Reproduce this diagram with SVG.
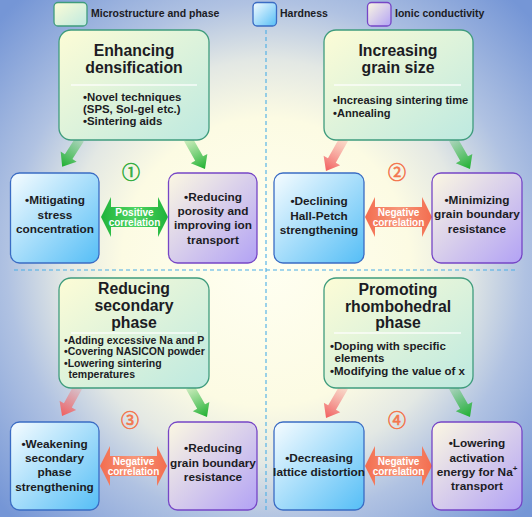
<svg xmlns="http://www.w3.org/2000/svg" width="532" height="517" viewBox="0 0 532 517">
<defs>
<radialGradient id="bg" gradientUnits="userSpaceOnUse" cx="266" cy="262" r="360">
<stop offset="0" stop-color="#fffff2"/>
<stop offset="0.4" stop-color="#fcfbe3"/>
<stop offset="0.56" stop-color="#e3e8e4"/>
<stop offset="0.72" stop-color="#b0c2e2"/>
<stop offset="1" stop-color="#7596d6"/>
</radialGradient>
<linearGradient id="gMicro" x1="0" y1="0" x2="1" y2="1">
<stop offset="0" stop-color="#fdfcd6"/>
<stop offset="1" stop-color="#bde9e0"/>
</linearGradient>
<linearGradient id="gHard" x1="0" y1="0" x2="1" y2="1">
<stop offset="0" stop-color="#f6fcff"/>
<stop offset="1" stop-color="#55bef6"/>
</linearGradient>
<linearGradient id="gIon" x1="0" y1="0" x2="1" y2="1">
<stop offset="0" stop-color="#fcf8e2"/>
<stop offset="1" stop-color="#b2a2f5"/>
</linearGradient>
<linearGradient id="aG" x1="0" y1="0" x2="1" y2="0">
<stop offset="0" stop-color="#3cbf48" stop-opacity="0.25"/>
<stop offset="1" stop-color="#1eb02f" stop-opacity="1"/>
</linearGradient>
<linearGradient id="aR" x1="0" y1="0" x2="1" y2="0">
<stop offset="0" stop-color="#f58080" stop-opacity="0.25"/>
<stop offset="1" stop-color="#f25f5f" stop-opacity="1"/>
</linearGradient>
<linearGradient id="dG" x1="0" y1="0" x2="1" y2="0">
<stop offset="0" stop-color="#1fb33a"/>
<stop offset="0.5" stop-color="#4fd463"/>
<stop offset="1" stop-color="#1fb33a"/>
</linearGradient>
<linearGradient id="dR" x1="0" y1="0" x2="1" y2="0">
<stop offset="0" stop-color="#f36d4f"/>
<stop offset="0.5" stop-color="#f7977a"/>
<stop offset="1" stop-color="#f36d4f"/>
</linearGradient>
</defs>
<style>
.t{font-family:"Liberation Sans",Arial,sans-serif;font-weight:bold;fill:#1c1c24}
.lg{font-size:10.5px}
.title{font-size:15.8px;text-anchor:middle}
.c{font-size:11.8px;text-anchor:middle}
.w{font-family:"Liberation Sans",Arial,sans-serif;font-weight:bold;fill:#ffffff;font-size:10px;text-anchor:middle}
.num{font-family:"Noto Sans CJK SC","DejaVu Sans",sans-serif;font-size:18px;text-anchor:middle;stroke-width:0.6}
.micro{fill:url(#gMicro);stroke:#3f9c7d;stroke-width:1.3}
.hard{fill:url(#gHard);stroke:#3a6cc4;stroke-width:1.3}
.ion{fill:url(#gIon);stroke:#7646c6;stroke-width:1.3}
.sep{stroke:#ffffff;stroke-width:1.5;opacity:0.85}
.dash{stroke:#4aaee6;stroke-width:1.1;stroke-dasharray:4 3;fill:none}
</style>
<rect x="0" y="0" width="532" height="517" fill="url(#bg)"/>

<g id="dividers">
<line class="dash" x1="14" y1="270" x2="516" y2="270"/>
<line class="dash" x1="266" y1="30" x2="266" y2="512"/>
</g>

<g id="legend">
<rect class="micro" x="54" y="2.5" width="33" height="23.5" rx="4"/>
<text class="t lg" x="91" y="17">Microstructure and phase</text>
<rect class="hard" x="253" y="2.5" width="23.5" height="23.5" rx="4"/>
<text class="t lg" x="280" y="17">Hardness</text>
<rect class="ion" x="367.5" y="2.5" width="23.5" height="23.5" rx="4"/>
<text class="t lg" x="395" y="17">Ionic conductivity</text>
</g>

<g id="connectors">
<polygon fill="url(#aG)" transform="translate(80,139) rotate(122.7)" points="0,-4.5 21,-4.5 21,-9.5 33,0 21,9.5 21,4.5 0,4.5"/>
<polygon fill="url(#aG)" transform="translate(188,139) rotate(60.5)" points="0,-4.5 22.5,-4.5 22.5,-9.5 34.5,0 22.5,9.5 22.5,4.5 0,4.5"/>
<polygon fill="url(#aR)" transform="translate(344,139) rotate(119.4)" points="0,-4.5 24.7,-4.5 24.7,-9.5 36.7,0 24.7,9.5 24.7,4.5 0,4.5"/>
<polygon fill="url(#aG)" transform="translate(453,139) rotate(60.5)" points="0,-4.5 22.5,-4.5 22.5,-9.5 34.5,0 22.5,9.5 22.5,4.5 0,4.5"/>
<polygon fill="url(#aR)" transform="translate(78,387) rotate(118.9)" points="0,-4.5 21,-4.5 21,-9.5 33,0 21,9.5 21,4.5 0,4.5"/>
<polygon fill="url(#aG)" transform="translate(190,387) rotate(60.5)" points="0,-4.5 22.5,-4.5 22.5,-9.5 34.5,0 22.5,9.5 22.5,4.5 0,4.5"/>
<polygon fill="url(#aR)" transform="translate(344,387) rotate(120.1)" points="0,-4.5 23.8,-4.5 23.8,-9.5 35.8,0 23.8,9.5 23.8,4.5 0,4.5"/>
<polygon fill="url(#aG)" transform="translate(453,387) rotate(60.5)" points="0,-4.5 22.5,-4.5 22.5,-9.5 34.5,0 22.5,9.5 22.5,4.5 0,4.5"/>

<path fill="url(#dG)" d="M101,217 L111,197 L111,207 L158,207 L158,197 L168,217 L158,237 L158,227 L111,227 L111,237 Z"/>
<text class="w" x="134.5" y="216">Positive</text>
<text class="w" x="134.5" y="225.5">correlation</text>
<path fill="url(#dR)" d="M365,217 L375,197 L375,207 L422,207 L422,197 L432,217 L422,237 L422,227 L375,227 L375,237 Z"/>
<text class="w" x="398.5" y="216">Negative</text>
<text class="w" x="398.5" y="225.5">correlation</text>
<path fill="url(#dR)" d="M100,466 L110,446 L110,456 L157,456 L157,446 L167,466 L157,486 L157,476 L110,476 L110,486 Z"/>
<text class="w" x="133.5" y="465">Negative</text>
<text class="w" x="133.5" y="474.5">correlation</text>
<path fill="url(#dR)" d="M365,466 L375,446 L375,456 L422,456 L422,446 L432,466 L422,486 L422,476 L375,476 L375,486 Z"/>
<text class="w" x="398.5" y="465">Negative</text>
<text class="w" x="398.5" y="474.5">correlation</text>

<text class="num" x="131" y="179" fill="#35ad3f" stroke="#35ad3f">①</text>
<text class="num" x="397" y="179" fill="#f3774f" stroke="#f3774f">②</text>
<text class="num" x="130" y="427" fill="#f3774f" stroke="#f3774f">③</text>
<text class="num" x="397" y="427" fill="#f3774f" stroke="#f3774f">④</text>
</g>

<g id="q1-top">
<rect class="micro" x="59" y="30" width="150" height="110" rx="12"/>
<text class="t title" x="134" y="56">Enhancing</text>
<text class="t title" x="134" y="72.5">densification</text>
<line class="sep" x1="71" y1="85" x2="197" y2="85"/>
<text class="t" font-size="11.4" x="83" y="101">•Novel techniques</text>
<text class="t" font-size="11.4" x="83" y="113">(SPS, Sol-gel etc.)</text>
<text class="t" font-size="11.4" x="83" y="125">•Sintering aids</text>
</g>
<g id="q1-left">
<rect class="hard" x="10.5" y="173" width="88.5" height="90" rx="9"/>
<text class="t c" x="55" y="204">•Mitigating</text>
<text class="t c" x="55" y="218.5">stress</text>
<text class="t c" x="55" y="233">concentration</text>
</g>
<g id="q1-right">
<rect class="ion" x="168.5" y="173" width="88.5" height="90" rx="9"/>
<text class="t c" x="213" y="200.5">•Reducing</text>
<text class="t c" x="213" y="215">porosity and</text>
<text class="t c" x="213" y="229">improving ion</text>
<text class="t c" x="213" y="243.5">transport</text>
</g>

<g id="q2-top">
<rect class="micro" x="324" y="30" width="149" height="110" rx="12"/>
<text class="t title" x="398" y="56">Increasing</text>
<text class="t title" x="398" y="72.5">grain size</text>
<line class="sep" x1="334" y1="85" x2="461" y2="85"/>
<text class="t" font-size="11.1" x="333" y="104">•Increasing sintering time</text>
<text class="t" font-size="11.1" x="333" y="117">•Annealing</text>
</g>
<g id="q2-left">
<rect class="hard" x="274" y="173" width="90" height="90" rx="9"/>
<text class="t c" x="319" y="205">•Declining</text>
<text class="t c" x="319" y="219.5">Hall-Petch</text>
<text class="t c" x="319" y="234">strengthening</text>
</g>
<g id="q2-right">
<rect class="ion" x="432" y="173" width="90" height="90" rx="9"/>
<text class="t c" x="477" y="203.5">•Minimizing</text>
<text class="t c" x="477" y="218">grain boundary</text>
<text class="t c" x="477" y="232.5">resistance</text>
</g>

<g id="q3-top">
<rect class="micro" x="59" y="278" width="150" height="110" rx="12"/>
<text class="t title" x="134" y="294">Reducing</text>
<text class="t title" x="134" y="311">secondary</text>
<text class="t title" x="134" y="327.5">phase</text>
<line class="sep" x1="71" y1="333" x2="197" y2="333"/>
<text class="t" font-size="10.5" x="64" y="343.5">•Adding excessive Na and P</text>
<text class="t" font-size="10.5" x="64" y="355">•Covering NASICON powder</text>
<text class="t" font-size="10.5" x="64" y="366.5">•Lowering sintering</text>
<text class="t" font-size="10.5" x="68.5" y="378">temperatures</text>
</g>
<g id="q3-left">
<rect class="hard" x="10.5" y="422" width="88.5" height="88" rx="9"/>
<text class="t c" x="54.5" y="447.5">•Weakening</text>
<text class="t c" x="54.5" y="461.5">secondary</text>
<text class="t c" x="54.5" y="476">phase</text>
<text class="t c" x="54.5" y="490.5">strengthening</text>
</g>
<g id="q3-right">
<rect class="ion" x="168.5" y="422" width="88.5" height="88" rx="9"/>
<text class="t c" x="213" y="452">•Reducing</text>
<text class="t c" x="213" y="467">grain boundary</text>
<text class="t c" x="213" y="481">resistance</text>
</g>

<g id="q4-top">
<rect class="micro" x="324" y="278" width="149" height="110" rx="12"/>
<text class="t title" x="398" y="294.5">Promoting</text>
<text class="t title" x="398" y="311.5">rhombohedral</text>
<text class="t title" x="398" y="328">phase</text>
<line class="sep" x1="334" y1="333" x2="461" y2="333"/>
<text class="t" font-size="11.5" x="330" y="349.5">•Doping with specific</text>
<text class="t" font-size="11.5" x="334.5" y="362">elements</text>
<text class="t" font-size="11.5" x="330" y="374.5">•Modifying the value of x</text>
</g>
<g id="q4-left">
<rect class="hard" x="274" y="422" width="90" height="88" rx="9"/>
<text class="t c" x="319" y="462">•Decreasing</text>
<text class="t c" x="319" y="475.5">lattice distortion</text>
</g>
<g id="q4-right">
<rect class="ion" x="432" y="422" width="90" height="88" rx="9"/>
<text class="t c" x="477" y="447">•Lowering</text>
<text class="t c" x="477" y="462">activation</text>
<text class="t c" x="477" y="476">energy for Na<tspan font-size="8" dy="-5">+</tspan></text>
<text class="t c" x="477" y="490">transport</text>
</g>
</svg>
